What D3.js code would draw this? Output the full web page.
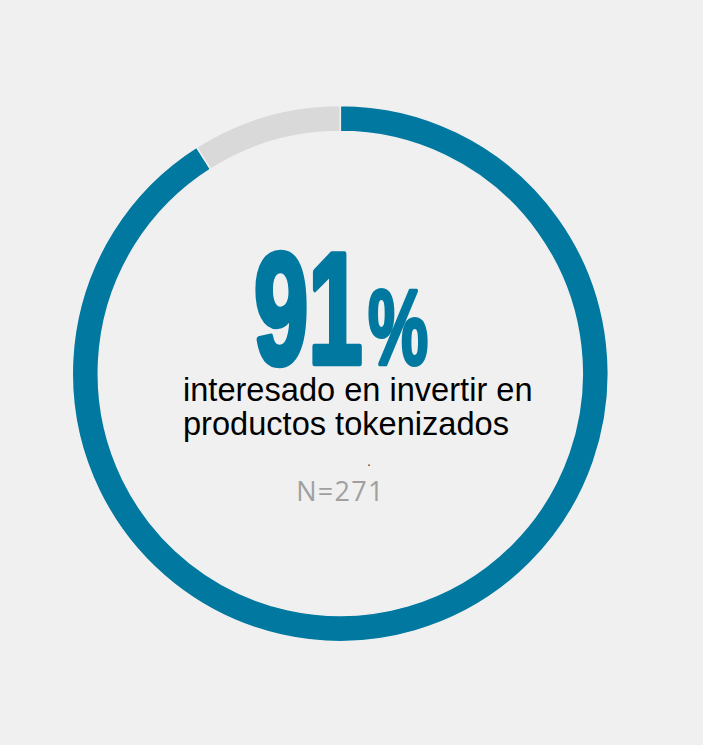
<!DOCTYPE html>
<html>
<head>
<meta charset="utf-8">
<script src="https://cdn.jsdelivr.net/npm/d3@7"></script>
<style>
  html, body { margin: 0; padding: 0; background: #f0f0f0; }
  svg { display: block; }
</style>
</head>
<body>
<svg id="chart" width="703" height="745"></svg>
<script>
// ---- data ----
const categories = ["interesado", "no interesado"];
const values = [91, 9];
const colors = ["#00789f", "#d9d9d9"];
const bigNumber = "91";
const bigUnit = "%";
const labelLines = ["interesado en invertir en", "productos tokenizados"];
const sampleLabel = "N=271";

// ---- layout ----
const W = 703, H = 745;
const cx = 340.3, cy = 373.5;
const outerR = 268, innerR = 242;

const svg = d3.select("#chart");
svg.append("rect").attr("width", W).attr("height", H).attr("fill", "#f0f0f0");

const pie = d3.pie().sort(null).value(d => d);
const arc = d3.arc().innerRadius(innerR).outerRadius(outerR);

const g = svg.append("g").attr("transform", `translate(${cx},${cy})`);
g.selectAll("path")
  .data(pie(values))
  .join("path")
  .attr("d", arc)
  .attr("fill", (d, i) => colors[i])
  .attr("stroke", "#f0f0f0")
  .attr("stroke-width", 1.5);

// fit text ink box to a target box using canvas metrics
const ctx = document.createElement("canvas").getContext("2d");
function fitText(text, family, weight, x0, x1, yTop, yBase, fill, sw) {
  const h = sw / 2;
  x0 += h; x1 -= h; yTop += h; yBase -= h;
  ctx.font = `${weight} 100px ${family}`;
  const m = ctx.measureText(text);
  const inkW = m.actualBoundingBoxLeft + m.actualBoundingBoxRight;
  const inkH = m.actualBoundingBoxAscent;
  const fs = (yBase - yTop) / inkH * 100;
  const sx = (x1 - x0) / (inkW * fs / 100);
  const ox = x0 + m.actualBoundingBoxLeft * fs / 100 * sx;
  svg.append("text")
    .attr("transform", `translate(${ox},${yBase}) scale(${sx},1)`)
    .attr("font-family", family)
    .attr("font-weight", weight)
    .attr("font-size", fs)
    .attr("fill", fill)
    .attr("stroke", fill)
    .attr("stroke-width", sw / sx)
    .attr("stroke-linejoin", "round")
    .text(text);
}

fitText(bigNumber, "'Liberation Sans'", "bold", 255, 362, 251, 365, colors[0], 4);
fitText(bigUnit, "'Liberation Sans'", "bold", 368, 428, 288, 365, colors[0], 2.5);

svg.append("g").selectAll("text")
  .data(labelLines)
  .join("text")
  .attr("x", 183)
  .attr("y", (d, i) => 401 + i * 34)
  .attr("font-family", "'Liberation Sans', Arial, sans-serif")
  .attr("font-size", 32.6)
  .attr("fill", "#000")
  .text(d => d);

svg.append("text")
  .attr("x", 369).attr("y", 466)
  .attr("font-family", "'Liberation Sans', Arial, sans-serif")
  .attr("font-size", 14)
  .attr("fill", "#444")
  .attr("text-anchor", "middle")
  .text(".");

svg.append("text")
  .attr("x", 340.5).attr("y", 501)
  .attr("text-anchor", "middle")
  .attr("font-family", "'Open Sans', sans-serif")
  .attr("font-size", 27)
  .attr("letter-spacing", 1.3)
  .attr("fill", "#a0a0a0")
  .text(sampleLabel);
</script>
</body>
</html>
